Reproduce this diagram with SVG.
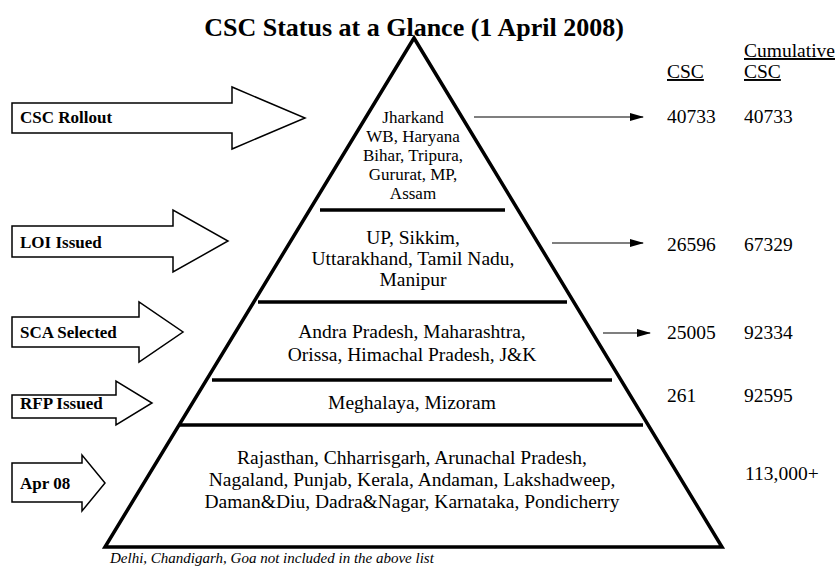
<svg xmlns="http://www.w3.org/2000/svg" width="837" height="570" viewBox="0 0 837 570">
<defs>
<marker id="ah" markerWidth="14" markerHeight="8" refX="13" refY="4" orient="auto" markerUnits="userSpaceOnUse">
<path d="M0,0 L14,4 L0,8 Z" fill="#000"/>
</marker>
<style>
text{font-family:'Liberation Serif','Times New Roman',serif;fill:#000}
.title{font-size:26px;font-weight:bold}
.lbl{font-size:17px;font-weight:bold}
.s1{font-size:17px}
.s{font-size:19.5px}
.num{font-size:19.5px}
.note{font-size:15px;font-style:italic}
.bigarrow{fill:#fff;stroke:#000;stroke-width:1.5;stroke-linejoin:miter}
.div{stroke:#000;stroke-width:3.5}
.conn{stroke:#000;stroke-width:1.2;fill:none}
</style>
</defs>
<rect width="837" height="570" fill="#fff"/>
<g font-family="Liberation Serif, Times New Roman, serif">
<text class="title" x="414" y="36" text-anchor="middle">CSC Status at a Glance (1 April 2008)</text>

<g id="pyramid">
<polygon points="414,38 105,547 722,547" fill="#fff" stroke="#000" stroke-width="3.5" stroke-linejoin="miter"/>
<line class="div" x1="320" y1="210" x2="505" y2="210"/>
<line class="div" x1="258" y1="302" x2="567" y2="302"/>
<line class="div" x1="212" y1="380" x2="612" y2="380"/>
<line class="div" x1="180" y1="425" x2="643" y2="425"/>
</g>

<g id="tier1">
<text class="s1" text-anchor="middle"><tspan x="413" y="123">Jharkand</tspan><tspan x="413" y="142">WB, Haryana</tspan><tspan x="413" y="161">Bihar, Tripura,</tspan><tspan x="413" y="180">Gururat, MP,</tspan><tspan x="413" y="199">Assam</tspan></text>
</g>
<g id="tier2">
<text class="s" text-anchor="middle"><tspan x="413" y="244">UP, Sikkim,</tspan><tspan x="413" y="265">Uttarakhand, Tamil Nadu,</tspan><tspan x="413" y="286">Manipur</tspan></text>
</g>
<g id="tier3">
<text class="s" text-anchor="middle"><tspan x="412" y="338">Andra Pradesh, Maharashtra,</tspan><tspan x="412" y="361">Orissa, Himachal Pradesh, J&amp;K</tspan></text>
</g>
<g id="tier4">
<text class="s" x="412" y="409" text-anchor="middle">Meghalaya, Mizoram</text>
</g>
<g id="tier5">
<text class="s" text-anchor="middle"><tspan x="412" y="464">Rajasthan, Chharrisgarh, Arunachal Pradesh,</tspan><tspan x="412" y="486">Nagaland, Punjab, Kerala, Andaman, Lakshadweep,</tspan><tspan x="412" y="508">Daman&amp;Diu, Dadra&amp;Nagar, Karnataka, Pondicherry</tspan></text>
</g>

<g id="arrow-csc-rollout">
<polygon class="bigarrow" points="12,103 232,103 232,87 305,118 232,149 232,133 12,133"/>
<text class="lbl" x="20" y="123">CSC Rollout</text>
</g>
<g id="arrow-loi">
<polygon class="bigarrow" points="12,226 173,226 173,210 228,241 173,272 173,257 12,257"/>
<text class="lbl" x="20" y="248">LOI Issued</text>
</g>
<g id="arrow-sca">
<polygon class="bigarrow" points="12,317 139,317 139,302 183,332 139,362 139,347 12,347"/>
<text class="lbl" x="20" y="338">SCA Selected</text>
</g>
<g id="arrow-rfp">
<polygon class="bigarrow" points="12,395 116,395 116,381 152,403 116,425 116,418 12,418"/>
<text class="lbl" x="20" y="409">RFP Issued</text>
</g>
<g id="arrow-apr">
<polygon class="bigarrow" points="12,463 82,463 82,455 105,483 82,511 82,502 12,502"/>
<text class="lbl" x="20" y="489">Apr 08</text>
</g>

<g id="connectors">
<line class="conn" x1="474" y1="117" x2="643" y2="117" marker-end="url(#ah)"/>
<line class="conn" x1="552" y1="243" x2="643" y2="243" marker-end="url(#ah)"/>
<line class="conn" x1="603" y1="333" x2="650" y2="333" marker-end="url(#ah)"/>
</g>

<g id="table">
<text class="num" x="744" y="57" text-decoration="underline">Cumulative</text>
<text class="num" x="667" y="78" text-decoration="underline">CSC</text>
<text class="num" x="744" y="78" text-decoration="underline">CSC</text>
<text class="num" x="667" y="123">40733</text>
<text class="num" x="744" y="123">40733</text>
<text class="num" x="667" y="251">26596</text>
<text class="num" x="744" y="251">67329</text>
<text class="num" x="667" y="339">25005</text>
<text class="num" x="744" y="339">92334</text>
<text class="num" x="667" y="402">261</text>
<text class="num" x="744" y="402">92595</text>
<text class="num" x="745" y="480">113,000+</text>
</g>

<text class="note" x="110" y="563">Delhi, Chandigarh, Goa not included in the above list</text>
</g>
</svg>
